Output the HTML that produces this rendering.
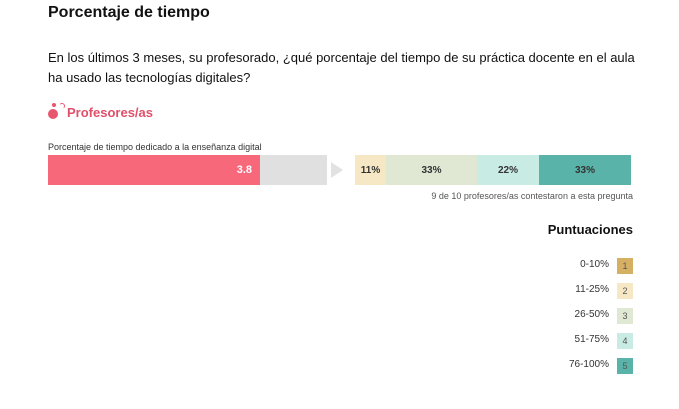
<!DOCTYPE html><html><head><style>
body{margin:0;width:679px;height:409px;background:#fff;font-family:"Liberation Sans","DejaVu Sans",sans-serif;position:relative;overflow:hidden;color:#111}
.a{position:absolute;white-space:nowrap}
.seg{position:absolute;top:155px;height:30px;font-size:10px;font-weight:bold;color:#333;display:flex;align-items:center;justify-content:center}
.lb{position:absolute;left:617px;width:16px;height:16px;font-size:9px;color:#555;display:flex;align-items:center;justify-content:center}
.lt{position:absolute;right:70px;font-size:10px;color:#333}
</style></head><body>
<div class="a" style="left:48px;top:4px;font-size:16px;font-weight:bold">Porcentaje de tiempo</div>
<div class="a" style="left:48px;top:48px;font-size:13px;line-height:20px;white-space:normal;width:590px">En los últimos 3 meses, su profesorado, ¿qué porcentaje del tiempo de su práctica docente en el aula ha usado las tecnologías digitales?</div>
<div class="a" style="left:48px;top:109px;width:10px;height:10px;border-radius:50%;background:#e8566e"></div>
<div class="a" style="left:52px;top:103px;width:4px;height:4px;border-radius:50%;background:#e8566e"></div>
<div class="a" style="left:59px;top:103px;width:4px;height:4px;border:1px solid #e8566e;border-radius:50%;border-left-color:transparent;border-bottom-color:transparent"></div>
<div class="a" style="left:67px;top:105px;font-size:13px;font-weight:bold;color:#e0506a">Profesores/as</div>
<div class="a" style="left:48px;top:142px;font-size:9px;color:#333">Porcentaje de tiempo dedicado a la enseñanza digital</div>
<div class="a" style="left:48px;top:155px;width:279px;height:30px;background:#e0e0e0"></div>
<div class="a" style="left:48px;top:155px;width:212px;height:30px;background:#f7687b;color:#fff;font-size:11px;font-weight:bold;box-sizing:border-box;padding-right:8px;text-align:right;line-height:30px">3.8</div>
<div class="a" style="left:331px;top:162px;width:0;height:0;border-top:8px solid transparent;border-bottom:8px solid transparent;border-left:12px solid #e2e2e2"></div>
<div class="seg" style="left:355px;width:31px;background:#f6e8c4">11%</div>
<div class="seg" style="left:386px;width:91px;background:#e0e8d4">33%</div>
<div class="seg" style="left:477px;width:62px;background:#c8ebe3">22%</div>
<div class="seg" style="left:539px;width:92px;background:#5ab3a8">33%</div>
<div class="a" style="right:46px;top:191px;font-size:9px;color:#555">9 de 10 profesores/as contestaron a esta pregunta</div>
<div class="a" style="right:46px;top:222px;font-size:13px;font-weight:bold">Puntuaciones</div>
<div class="lt" style="top:259px">0-10%</div><div class="lb" style="top:258px;background:#d5b063">1</div>
<div class="lt" style="top:284px">11-25%</div><div class="lb" style="top:283px;background:#f6e8c4">2</div>
<div class="lt" style="top:309px">26-50%</div><div class="lb" style="top:308px;background:#e0e8d4">3</div>
<div class="lt" style="top:334px">51-75%</div><div class="lb" style="top:333px;background:#c8ebe3">4</div>
<div class="lt" style="top:359px">76-100%</div><div class="lb" style="top:358px;background:#5ab3a8">5</div>
</body></html>
